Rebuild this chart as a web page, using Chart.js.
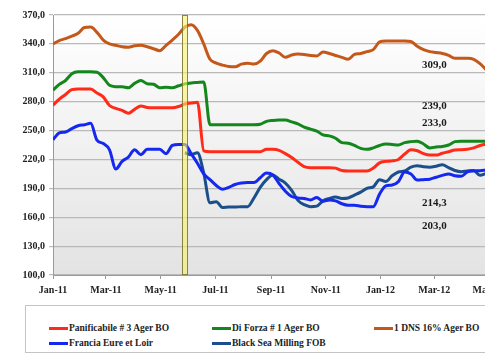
<!DOCTYPE html>
<html>
<head>
<meta charset="utf-8">
<script src="https://cdn.jsdelivr.net/npm/chart.js@4.4.0/dist/chart.umd.min.js"></script>
<style>
    html, body { margin: 0; padding: 0; background: #fff; }
    #wrap { position: relative; width: 485px; height: 360px; overflow: hidden; }
    #chart { position: absolute; left: 0; top: 0; }
    #legend {
        position: absolute; left: 25px; top: 305px; width: 470px; height: 48px;
        border: 1px solid #c4c4c4; box-sizing: border-box;
        font: bold 9.5px "Liberation Serif", "Times New Roman", serif; color: #222;
    }
    .item { position: absolute; display: flex; align-items: center; white-space: nowrap; height: 12px; }
    .swatch { width: 19px; height: 3px; margin-right: 1px; }
</style>
</head>
<body>
<div id="wrap">
    <canvas id="chart" width="520" height="300"></canvas>
    <div id="legend"></div>
</div>
<script>
// weekly quotes, Jan-11 .. Apr-12 (first week = day 0)
const panificabile = [276.5, 282.5, 287.5, 292.5, 293.2, 293.2, 293.2, 289, 285, 276, 273, 271, 268, 272, 275.5, 274,
    273.7, 273.7, 273.7, 273.7, 275, 277.6, 278.5, 279.5, 229, 228, 228, 228, 228, 228, 228, 228, 228, 228,
    230.5, 230.5, 229.5, 226, 222, 217, 212.5, 211.5, 211.5, 211.5, 211.5, 211, 208.5, 208, 208, 208, 208, 211,
    216.5, 218, 218.5, 220, 225.6, 230, 229, 226, 224.5, 224.5, 226.5, 228, 229.8, 230, 230.5, 232, 234.5, 236];
const diForza = [292, 298, 302, 309, 311, 311, 311, 310.5, 305, 297, 295.6, 295.5, 294.5, 299, 302, 298.5,
    298, 294.5, 295, 294.5, 296.5, 298.5, 299.5, 300, 300.5, 256, 256, 256, 256, 256, 256, 256, 256, 256.5,
    259.5, 260.5, 261, 261, 259, 257, 253.5, 251.5, 249.5, 245.5, 244.5, 242, 237.5, 236.8, 234.5, 231.5, 230.5, 232,
    234.5, 236, 235.5, 235, 237.5, 238.5, 239, 236, 232, 233, 233.5, 235, 238.5, 239, 239, 239, 239, 239];
const dns = [340, 343.5, 345.5, 348, 351, 357, 357.5, 352, 344, 340, 338.5, 337, 336.5, 338, 338.5, 337,
    335, 333, 338.5, 344, 350, 357.5, 360, 354, 340, 324, 320, 318, 316.5, 316.3, 319, 320, 319, 322,
    330, 333, 330.5, 326, 328.5, 329.5, 329, 328, 327.5, 331.5, 330, 328, 326, 324, 329, 330, 332, 334,
    342, 343, 343, 343, 343, 342.5, 337.5, 334, 332, 331, 330, 328, 325, 325, 325, 324, 319.5, 313];
const francia = [240.5, 247.5, 248.5, 252, 255, 256, 257.5, 240, 236.5, 230, 210, 218, 222.5, 230, 225, 230.5,
    230.5, 230.5, 226, 234.5, 235.5, 235.5, 226, 216, 205, 199, 193, 189, 191, 194, 195.5, 196, 196, 201,
    206, 204, 195, 187, 181.5, 180, 179.5, 178, 180.5, 176.5, 178, 177, 174, 172.5, 172.5, 171.5, 171, 171,
    184, 192.5, 193.5, 197, 207, 205, 198.6, 199, 199.5, 201.5, 203.5, 205, 203, 202.5, 207, 208, 208.3, 209];
const blackSea = [null, null, null, null, null, null, null, null, null, null, null, null, null, null, null, null,
    null, null, null, null, null, 227, 225, 227, 206, 175, 176, 170, 170.5, 170.5, 171, 171, 180, 191,
    199, 203.8, 199.5, 195.5, 188, 177.5, 173, 171, 171.5, 177, 179.5, 181, 179.5, 180, 183, 186, 190, 191.5,
    199, 197, 203, 207, 208, 212, 213.5, 212.5, 212, 213, 214.5, 211.5, 208.5, 207.3, 208, 208.5, 203.5, 205.5];

const seriesNames = ['Panificabile # 3 Ager BO', 'Di Forza # 1 Ager BO', '1 DNS 16% Ager BO', 'Francia Eure et Loir', 'Black Sea Milling FOB'];
const seriesColors = ['#ff2a17', '#13871c', '#c4581a', '#1428f0', '#1a4f8c'];
const seriesData = [panificabile, diForza, dns, francia, blackSea];

const weekDays = panificabile.map((_, i) => i * 7);
const tickDays = [0, 59, 120, 181, 243, 304, 365, 425, 486];
const tickLabels = ['Jan-11', 'Mar-11', 'May-11', 'Jul-11', 'Sep-11', 'Nov-11', 'Jan-12', 'Mar-12', 'May-12'];
const yTicks = [100, 130, 160, 190, 220, 250, 280, 310, 340, 370];

// last quotes written inside the plot, and the highlighted week
const lastQuotes = ['309,0', '239,0', '233,0', '214,3', '203,0'];
const quoteSpots = [[425, 318], [425, 275], [425, 257.5], [425, 174.5], [425, 150.5]];
const bandDays = [144, 150];

const serif = '"Liberation Serif", "Times New Roman", serif';

const plotBackground = {
    id: 'plotBackground',
    beforeDraw(chart) {
        const { ctx, chartArea: a } = chart;
        const g = ctx.createLinearGradient(0, a.top, 0, a.bottom);
        g.addColorStop(0, '#ffffff');
        g.addColorStop(1, '#e3e3e3');
        ctx.save();
        ctx.fillStyle = g;
        ctx.fillRect(a.left, a.top, a.right - a.left, a.bottom - a.top);
        ctx.restore();
    }
};

const bandAndQuotes = {
    id: 'bandAndQuotes',
    afterDatasetsDraw(chart) {
        const { ctx, chartArea: a, scales: { x, y } } = chart;
        ctx.save();
        const x0 = x.getPixelForValue(bandDays[0]);
        const x1 = x.getPixelForValue(bandDays[1]);
        ctx.fillStyle = 'rgba(250, 240, 110, 0.6)';
        ctx.fillRect(x0, a.top, x1 - x0, a.bottom - a.top);
        ctx.strokeStyle = 'rgba(110, 105, 40, 0.8)';
        ctx.lineWidth = 1;
        ctx.strokeRect(Math.round(x0) + 0.5, a.top + 0.5, Math.round(x1 - x0), a.bottom - a.top - 1);

        ctx.fillStyle = '#1a1a1a';
        ctx.font = 'bold 11px ' + serif;
        ctx.textAlign = 'center';
        ctx.textBaseline = 'middle';
        lastQuotes.forEach((t, i) => {
            ctx.fillText(t, x.getPixelForValue(quoteSpots[i][0]), y.getPixelForValue(quoteSpots[i][1]));
        });
        ctx.restore();
    }
};

const ctx = document.getElementById('chart').getContext('2d');
const chart = new Chart(ctx, {
    type: 'line',
    data: {
        datasets: seriesData.map((vals, i) => ({
            label: seriesNames[i],
            data: vals.map((v, k) => ({ x: weekDays[k], y: v })),
            borderColor: seriesColors[i],
            borderWidth: 3,
            pointRadius: 0,
            cubicInterpolationMode: 'monotone',
            fill: false
        }))
    },
    options: {
        responsive: false,
        animation: false,
        devicePixelRatio: 1,
        layout: { padding: { top: 15, right: 31, left: 0, bottom: 0 } },
        plugins: { legend: { display: false }, tooltip: { enabled: false } },
        scales: {
            x: {
                type: 'linear',
                min: 0,
                max: 486,
                afterBuildTicks: (s) => { s.ticks = tickDays.map(v => ({ value: v })); },
                afterFit: (s) => { s.height = 25; },
                grid: { drawOnChartArea: false, color: '#9a9a9a', tickLength: 4 },
                border: { color: '#9a9a9a', width: 1 },
                ticks: {
                    autoSkip: false,
                    maxRotation: 0,
                    padding: 5,
                    color: '#222',
                    font: { family: serif, size: 10, weight: 'bold' },
                    callback: (v) => tickLabels[tickDays.indexOf(v)]
                }
            },
            y: {
                min: 100,
                max: 370,
                afterBuildTicks: (s) => { s.ticks = yTicks.map(v => ({ value: v })); },
                afterFit: (s) => { s.width = 53; },
                grid: { color: '#b9b9b9', lineWidth: 1.2, tickLength: 4 },
                border: { color: '#9a9a9a', width: 1 },
                ticks: {
                    padding: 4,
                    color: '#222',
                    font: { family: serif, size: 10, weight: 'bold' },
                    callback: (v) => v.toFixed(1).replace('.', ',')
                }
            }
        }
    },
    plugins: [plotBackground, bandAndQuotes]
});

// legend box, two rows like the original
const legendSpots = [[23, 16], [186, 16], [348, 16], [23, 31], [186, 31]];
const legend = document.getElementById('legend');
seriesNames.forEach((name, i) => {
    const item = document.createElement('div');
    item.className = 'item';
    item.style.left = legendSpots[i][0] + 'px';
    item.style.top = legendSpots[i][1] + 'px';
    const sw = document.createElement('span');
    sw.className = 'swatch';
    sw.style.background = seriesColors[i];
    const tx = document.createElement('span');
    tx.textContent = name;
    item.appendChild(sw);
    item.appendChild(tx);
    legend.appendChild(item);
});
</script>
</body>
</html>
